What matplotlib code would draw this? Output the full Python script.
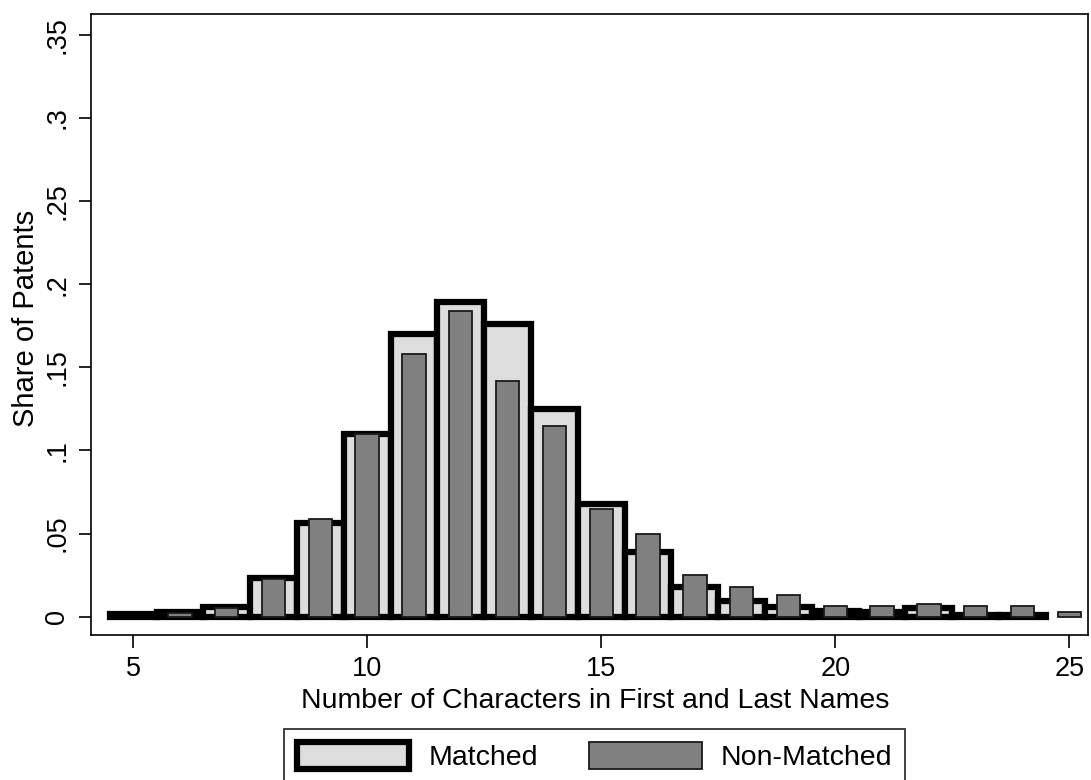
import matplotlib
matplotlib.use("Agg")
import matplotlib.pyplot as plt
from matplotlib.patches import Patch
import numpy as np

plt.rcParams['font.family'] = ['Liberation Sans', 'DejaVu Sans']

# name length bins (characters in first + last names)
matched_x = list(range(5, 25))
matched_share = [0.0015, 0.003, 0.006, 0.023, 0.0565, 0.110, 0.170, 0.189, 0.176, 0.125,
                 0.068, 0.039, 0.0177, 0.0093, 0.0057, 0.0036, 0.003, 0.005, 0.0012, 0.0012]

nonmatched_x = list(range(6, 26))
nonmatched_share = [0.002, 0.0055, 0.0227, 0.059, 0.110, 0.158, 0.184, 0.142, 0.115, 0.065,
                    0.0497, 0.025, 0.0176, 0.0128, 0.0066, 0.0066, 0.0074, 0.0066, 0.0066, 0.003]

yticks = [0, 0.05, 0.1, 0.15, 0.2, 0.25, 0.3, 0.35]
ytick_labels = ["0", ".05", ".1", ".15", ".2", ".25", ".3", ".35"]
xticks = [5, 10, 15, 20, 25]

fig = plt.figure(figsize=(10.91, 7.8), dpi=100)
ax = fig.add_axes([91 / 1091, 145 / 780, 997 / 1091, 621 / 780])

ax.bar(matched_x, matched_share, width=1.0, color='#dddddd', edgecolor='black',
       linewidth=4.5, zorder=2)
ax.bar(nonmatched_x, nonmatched_share, width=0.5, color='#808080', edgecolor='#1a1a1a',
       linewidth=1.3, zorder=3)

ax.set_xlim(4.1, 25.4)
ax.set_ylim(-0.011, 0.3625)
ax.set_xticks(xticks)
ax.set_yticks(yticks)
ax.set_yticklabels(ytick_labels, rotation=90, va='center')
ax.tick_params(axis='both', direction='out', length=9, width=1.2, labelsize=19.5, pad=6)
for s in ax.spines.values():
    s.set_linewidth(1.2)

ax.set_xlabel("Number of Characters in First and Last Names", fontsize=20.5)
ax.xaxis.set_label_coords(0.506, -0.085)
ax.set_ylabel("Share of Patents", fontsize=21)
ax.yaxis.set_label_coords(-0.051, 0.51)

handles = [Patch(facecolor='#dddddd', edgecolor='black', linewidth=4.5, label='Matched'),
           Patch(facecolor='#808080', edgecolor='#1a1a1a', linewidth=1.3, label='Non-Matched')]
leg = ax.legend(handles=handles, loc='upper center', bbox_to_anchor=(594.5 / 1091, 51 / 780),
                bbox_transform=fig.transFigure, ncol=2, fontsize=20.5, frameon=True,
                fancybox=False, handlelength=3.95, handleheight=1.1, handletextpad=0.67,
                columnspacing=1.8, borderpad=0.45, borderaxespad=0)
leg.get_frame().set_edgecolor('black')
leg.get_frame().set_linewidth(1.3)

fig.savefig('out.png', dpi=100)
